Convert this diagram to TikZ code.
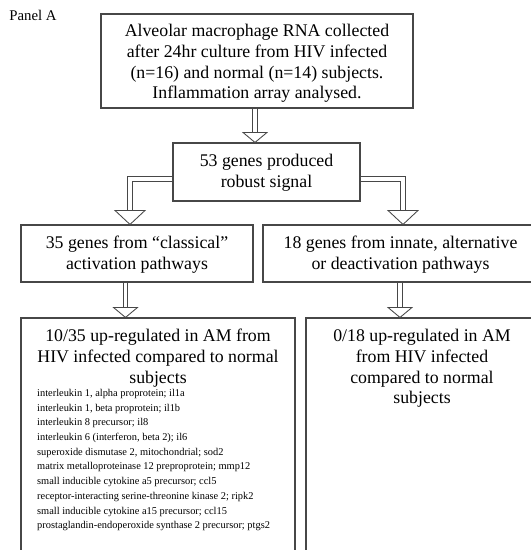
\documentclass[tikz,border=0pt]{standalone}
\usepackage{fontspec}
\setmainfont{Liberation Serif}
\begin{document}
\begin{tikzpicture}[x=1pt,y=-1pt,
  boxc/.style={draw=black!72, line width=1.1pt, inner sep=0pt, align=center,
    font=\fontsize{17.8}{20.6}\selectfont},
  txt/.style={inner sep=0pt, align=center, font=\fontsize{17.8}{20.8}\selectfont},
  genes/.style={inner sep=0pt, align=left, font=\fontsize{10.4}{14.7}\selectfont},
  dbl/.style={draw=black!72, line width=0.85pt, double=white, double distance=3.8pt},
  shead/.pic={\draw[black!72, line width=0.85pt, fill=white, line join=miter] (-12,-10) -- (12,-10) -- (0,0) -- cycle;},
  bhead/.pic={\draw[black!72, line width=0.85pt, fill=white, line join=miter] (-15,-14) -- (15,-14) -- (0,0) -- cycle;}
]
\useasboundingbox (0,0) rectangle (531,550);
\clip (0,0) rectangle (531,550);
\fill[white] (0,0) rectangle (531,550);

\node[inner sep=0pt, font=\fontsize{14.8}{16}\selectfont] (panel) at (33,15) {Panel A};

\node[boxc, minimum width=312pt, minimum height=94pt] (b1) at (257,61) {};
\node[txt, font=\fontsize{17.8}{20.6}\selectfont] (t1) at (257,63.5)
  {Alveolar macrophage RNA collected\\after 24hr culture from HIV infected\\(n=16) and normal (n=14) subjects.\\Inflammation array analysed.};
\node[boxc, minimum width=187pt, minimum height=58pt] (b2) at (266.5,172) {};
\node[txt] (t2) at (266.5,173) {53 genes produced\\robust signal};
\node[boxc, minimum width=232pt, minimum height=57pt] (b3) at (137,253.5) {};
\node[txt] (t3) at (137,255) {35 genes from “classical”\\activation pathways};
\node[boxc, minimum width=275pt, minimum height=57pt] (b4) at (400.5,253.5) {};
\node[txt] (t4) at (400.5,255) {18 genes from innate, alternative\\or deactivation pathways};
\node[boxc, minimum width=274pt, minimum height=252pt] (b5) at (158,444) {};
\node[boxc, minimum width=232pt, minimum height=252pt] (b6) at (422,444) {};

\node[txt, anchor=north] (t5) at (158,329)
  {10/35 up-regulated in AM from\\HIV infected compared to normal\\subjects};
\node[genes, anchor=north west] (g5) at (37,389)
  {interleukin 1, alpha proprotein; il1a\\
   interleukin 1, beta proprotein; il1b\\
   interleukin 8 precursor; il8\\
   interleukin 6 (interferon, beta 2); il6\\
   superoxide dismutase 2, mitochondrial; sod2\\
   matrix metalloproteinase 12 preproprotein; mmp12\\
   small inducible cytokine a5 precursor; ccl5\\
   receptor-interacting serine-threonine kinase 2; ripk2\\
   small inducible cytokine a15 precursor; ccl15\\
   prostaglandin-endoperoxide synthase 2 precursor; ptgs2};
\node[txt, anchor=north] (t6) at (422,329)
  {0/18 up-regulated in AM\\from HIV infected\\compared to normal\\subjects};

\coordinate (c1) at (255,0);
\coordinate (c2) at (130,179);
\coordinate (c3) at (403,179);
\coordinate (c4) at (125.5,0);
\coordinate (c5) at (400,0);

\draw[dbl] (b1.south -| c1) -- ([yshift=10pt]b2.north -| c1);
\pic at (b2.north -| c1) {shead};

\draw[dbl] (b2.west |- c2) -| ([yshift=14pt]b3.north -| c2);
\pic at (b3.north -| c2) {bhead};

\draw[dbl] (b2.east |- c3) -| ([yshift=14pt]b4.north -| c3);
\pic at (b4.north -| c3) {bhead};

\draw[dbl] (b3.south -| c4) -- ([yshift=10pt]b5.north -| c4);
\pic at (b5.north -| c4) {shead};

\draw[dbl] (b4.south -| c5) -- ([yshift=10pt]b6.north -| c5);
\pic at (b6.north -| c5) {shead};
\end{tikzpicture}
\end{document}
